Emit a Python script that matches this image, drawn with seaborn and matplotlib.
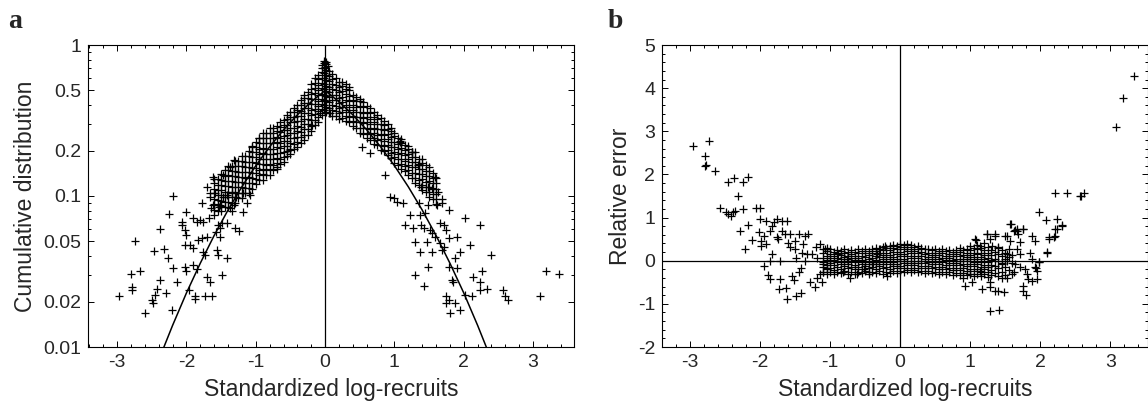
import numpy as np
import pandas as pd
import matplotlib
matplotlib.use("Agg")
import matplotlib.pyplot as plt
import seaborn as sns
from matplotlib.ticker import FixedLocator, MultipleLocator, NullFormatter

# ---- panel a: scattered tail points (x, cumulative probability) ----
a_tail_x = [-2.19, -1.78, -1.66, -1.59, -1.61, -1.64, -1.52, -1.47, -1.42, -1.35, -1.28, -1.18,
            -1.13, -1.08, -1.32, -1.37, -1.35, -1.19, -1.53, -2.25, -2.01, -1.90, -1.85, -1.81,
            -1.76, -1.68, -2.07, -2.07, -2.02, -2.00, -2.38, -2.74, -2.47, -2.33, -2.26, -2.19,
            -2.02, -2.00, -1.90, -1.85, -1.95, -2.02, -1.90, -1.83, -1.78, -1.71, -1.76, -1.73,
            -1.56, -1.54, -1.42, -1.52, -1.54, -1.49, -1.42, -1.30, -1.24, -1.58, -1.52, -1.49,
            -1.71, -1.66, -2.14, -2.38, -2.43, -2.45, -2.50, -2.48, -2.60, -2.29, -2.21, -1.96,
            -1.88, -1.88, -1.73, -1.63, -2.80, -2.67, -2.79, -2.79, -2.98,
            -1.61, -0.96, -1.06, -1.32, -1.37, -1.71, -1.66, -1.47, -0.51, -0.70, -0.07, -0.19,
            -0.02, -0.04, 0.00]
a_tail_y = [0.100, 0.0895, 0.099, 0.104, 0.087, 0.083, 0.087, 0.099, 0.101, 0.104, 0.099, 0.104,
            0.0895, 0.101, 0.087, 0.083, 0.079, 0.078, 0.085, 0.0757, 0.078, 0.0711, 0.0676, 0.0693,
            0.0676, 0.0711, 0.0676, 0.0643, 0.0596, 0.0552, 0.0602, 0.0504, 0.0430, 0.0448, 0.0391, 0.0336,
            0.0341, 0.0321, 0.0349, 0.0327, 0.0474, 0.0474, 0.0451, 0.0512, 0.0525, 0.0538, 0.0428, 0.0407,
            0.0440, 0.0407, 0.0387, 0.0538, 0.0643, 0.0659, 0.0659, 0.0611, 0.0586, 0.0581, 0.0611, 0.0300,
            0.0290, 0.0269, 0.0269, 0.0278, 0.0242, 0.0221, 0.0205, 0.0195, 0.0169, 0.0227, 0.0176, 0.0239,
            0.0216, 0.0207, 0.0219, 0.0218, 0.0303, 0.0319, 0.0251, 0.0239, 0.0216,
            0.134, 0.241, 0.212, 0.173, 0.156, 0.115, 0.104, 0.138, 0.202, 0.156, 0.353, 0.295,
            0.78, 0.74, 0.72]

a_right_x = [1.03, 1.13, 1.35, 1.49, 1.61, 1.68, 1.78, 1.23, 1.37, 1.44, 1.15, 1.27, 1.39, 1.42,
             1.51, 1.54, 1.66, 1.71, 1.75, 1.59, 1.66, 1.71, 1.68, 1.78, 1.90, 1.30, 1.47, 1.37,
             1.54, 1.87, 1.95, 1.78, 1.90, 1.49, 1.30, 1.42, 1.83, 1.85, 1.75, 1.78, 1.75, 1.80,
             1.95, 1.87, 2.02, 2.12, 2.14, 2.24, 2.26, 2.24, 2.33, 2.40, 2.09, 2.24, 2.02, 2.57,
             2.60, 2.64, 3.10, 3.19, 3.37,
             1.08, 1.25, 1.34, 1.59, 1.63, 1.49, 0.07, 1.08, 1.25, 1.35, 0.87, 0.94, 0.99, 1.39,
             1.54, 1.68, 0.53, 0.65, 0.02, 0.04]
a_right_y = [0.0918, 0.0895, 0.0895, 0.0873, 0.0873, 0.0895, 0.0809, 0.0750, 0.0750, 0.0769, 0.0643,
             0.0611, 0.0643, 0.0611, 0.0596, 0.0566, 0.0659, 0.0643, 0.0596, 0.0538, 0.0486, 0.0462,
             0.0440, 0.0525, 0.0538, 0.0499, 0.0499, 0.0428, 0.0428, 0.0387, 0.0428, 0.0341, 0.0332,
             0.0341, 0.0300, 0.0254, 0.0278, 0.0271, 0.0216, 0.0205, 0.0195, 0.0169, 0.0176, 0.0195,
             0.0221, 0.0218, 0.0290, 0.0271, 0.0319, 0.0239, 0.0241, 0.0407, 0.0474, 0.0643, 0.0713,
             0.0239, 0.0216, 0.0205, 0.0219, 0.0321, 0.0305,
             0.229, 0.196, 0.160, 0.134, 0.107, 0.115, 0.353, 0.230, 0.197, 0.160, 0.138, 0.099,
             0.097, 0.115, 0.113, 0.096, 0.212, 0.192, 0.77, 0.73]

# dense core of panel a, one column of points per x value
a_band_left_x = [-1.60, -1.55, -1.50, -1.45, -1.40, -1.35, -1.30, -1.25, -1.20, -1.15, -1.10, -1.05,
                 -1.00, -0.95, -0.90, -0.85, -0.80, -0.75, -0.70, -0.65, -0.60, -0.55, -0.50, -0.45,
                 -0.40, -0.35, -0.30, -0.25, -0.20, -0.15, -0.10, -0.05, -0.01]
a_band_left_y = [
    [0.075, 0.081, 0.088, 0.096, 0.104, 0.112, 0.122, 0.13],
    [0.080, 0.087, 0.094, 0.102, 0.110, 0.119, 0.129],
    [0.079, 0.086, 0.093, 0.101, 0.109, 0.118, 0.128, 0.139],
    [0.084, 0.091, 0.099, 0.107, 0.116, 0.126, 0.136, 0.148],
    [0.084, 0.091, 0.099, 0.107, 0.116, 0.126, 0.137, 0.148, 0.158],
    [0.09, 0.098, 0.106, 0.115, 0.125, 0.135, 0.147, 0.159],
    [0.09, 0.098, 0.106, 0.115, 0.124, 0.135, 0.146, 0.158, 0.17],
    [0.097, 0.105, 0.114, 0.123, 0.134, 0.145, 0.157, 0.17],
    [0.097, 0.105, 0.114, 0.124, 0.134, 0.145, 0.157, 0.171, 0.185],
    [0.104, 0.113, 0.122, 0.132, 0.144, 0.156, 0.169, 0.183],
    [0.104, 0.113, 0.122, 0.133, 0.144, 0.156, 0.169, 0.183, 0.199],
    [0.112, 0.121, 0.131, 0.142, 0.154, 0.167, 0.181, 0.197, 0.213],
    [0.120, 0.130, 0.141, 0.153, 0.166, 0.18, 0.195, 0.211, 0.229],
    [0.127, 0.138, 0.149, 0.162, 0.175, 0.19, 0.206, 0.223, 0.242],
    [0.128, 0.139, 0.151, 0.163, 0.177, 0.192, 0.208, 0.225, 0.244, 0.26],
    [0.137, 0.149, 0.161, 0.175, 0.19, 0.206, 0.223, 0.242, 0.262],
    [0.138, 0.15, 0.162, 0.176, 0.19, 0.206, 0.224, 0.243, 0.263, 0.28],
    [0.149, 0.161, 0.175, 0.19, 0.206, 0.223, 0.242, 0.262, 0.284],
    [0.152, 0.165, 0.179, 0.194, 0.21, 0.228, 0.247, 0.268, 0.29],
    [0.163, 0.177, 0.192, 0.208, 0.225, 0.244, 0.265, 0.287, 0.31],
    [0.168, 0.182, 0.197, 0.214, 0.232, 0.251, 0.272, 0.295, 0.32],
    [0.183, 0.198, 0.215, 0.233, 0.253, 0.274, 0.297, 0.322, 0.345],
    [0.19, 0.206, 0.223, 0.242, 0.262, 0.284, 0.308, 0.334, 0.362],
    [0.205, 0.222, 0.241, 0.261, 0.283, 0.307, 0.333, 0.361, 0.385],
    [0.21, 0.228, 0.247, 0.268, 0.29, 0.315, 0.341, 0.37, 0.40],
    [0.226, 0.245, 0.266, 0.288, 0.312, 0.338, 0.367, 0.398, 0.43],
    [0.235, 0.255, 0.276, 0.299, 0.325, 0.352, 0.381, 0.413, 0.448, 0.465],
    [0.255, 0.276, 0.3, 0.325, 0.352, 0.382, 0.414, 0.449, 0.487],
    [0.27, 0.293, 0.317, 0.344, 0.373, 0.404, 0.438, 0.475, 0.515, 0.555],
    [0.295, 0.32, 0.347, 0.376, 0.407, 0.441, 0.479, 0.519, 0.562, 0.60],
    [0.31, 0.336, 0.364, 0.395, 0.428, 0.464, 0.503, 0.545, 0.591, 0.635],
    [0.345, 0.374, 0.405, 0.439, 0.476, 0.516, 0.56, 0.607, 0.658, 0.70],
    [0.37, 0.40, 0.435, 0.47, 0.51, 0.555, 0.60, 0.65, 0.705, 0.76],
]
a_band_right_x = [0.01, 0.05, 0.10, 0.15, 0.20, 0.25, 0.30, 0.35, 0.40, 0.45, 0.50, 0.55, 0.60, 0.65,
                  0.70, 0.75, 0.80, 0.85, 0.90, 0.95, 1.00, 1.05, 1.10, 1.15, 1.20, 1.25, 1.30, 1.35,
                  1.40, 1.45, 1.50, 1.55, 1.60]
a_band_right_y = [
    [0.36, 0.39, 0.423, 0.459, 0.497, 0.539, 0.584, 0.633, 0.686, 0.745],
    [0.355, 0.385, 0.417, 0.452, 0.49, 0.531, 0.576, 0.624, 0.676],
    [0.34, 0.369, 0.4, 0.433, 0.47, 0.509, 0.552, 0.598, 0.64],
    [0.337, 0.365, 0.396, 0.429, 0.465, 0.504, 0.547, 0.60],
    [0.325, 0.352, 0.382, 0.414, 0.449, 0.486, 0.527, 0.571],
    [0.33, 0.358, 0.388, 0.42, 0.455, 0.494, 0.535, 0.565],
    [0.315, 0.341, 0.37, 0.401, 0.435, 0.471, 0.511, 0.55],
    [0.307, 0.333, 0.361, 0.391, 0.424, 0.46, 0.50, 0.525],
    [0.29, 0.314, 0.341, 0.369, 0.40, 0.434, 0.47],
    [0.283, 0.307, 0.333, 0.361, 0.391, 0.424, 0.455],
    [0.262, 0.284, 0.308, 0.334, 0.362, 0.392, 0.425, 0.44],
    [0.258, 0.28, 0.303, 0.329, 0.356, 0.386, 0.418],
    [0.242, 0.262, 0.284, 0.308, 0.334, 0.362, 0.393],
    [0.236, 0.256, 0.277, 0.301, 0.326, 0.353, 0.38],
    [0.222, 0.241, 0.261, 0.283, 0.307, 0.332, 0.36],
    [0.217, 0.235, 0.255, 0.276, 0.299, 0.325, 0.345],
    [0.202, 0.219, 0.237, 0.257, 0.279, 0.302, 0.328],
    [0.198, 0.215, 0.233, 0.252, 0.273, 0.296, 0.315],
    [0.186, 0.202, 0.219, 0.237, 0.257, 0.279, 0.30],
    [0.179, 0.194, 0.21, 0.228, 0.247, 0.268, 0.28],
    [0.166, 0.18, 0.195, 0.211, 0.229, 0.248, 0.26],
    [0.161, 0.175, 0.189, 0.205, 0.222, 0.241],
    [0.151, 0.164, 0.177, 0.192, 0.209, 0.226, 0.24],
    [0.146, 0.158, 0.171, 0.186, 0.201, 0.218],
    [0.137, 0.149, 0.161, 0.175, 0.189, 0.205, 0.215],
    [0.132, 0.143, 0.155, 0.168, 0.182, 0.197],
    [0.122, 0.132, 0.143, 0.155, 0.168, 0.182, 0.195],
    [0.118, 0.128, 0.139, 0.15, 0.163, 0.176],
    [0.11, 0.119, 0.129, 0.14, 0.152, 0.165, 0.175],
    [0.106, 0.115, 0.124, 0.135, 0.146, 0.16],
    [0.098, 0.106, 0.115, 0.125, 0.135, 0.147, 0.155],
    [0.095, 0.103, 0.111, 0.121, 0.131, 0.142],
    [0.088, 0.095, 0.103, 0.112, 0.121, 0.131],
]

# standard normal reference curve (tabulated)
normal_x = [-2.4, -2.2, -2.0, -1.8, -1.6, -1.4, -1.2, -1.0, -0.8, -0.6, -0.4, -0.2, 0.0,
            0.2, 0.4, 0.6, 0.8, 1.0, 1.2, 1.4, 1.6, 1.8, 2.0, 2.2, 2.4]
normal_p = [0.0082, 0.0139, 0.0228, 0.0359, 0.0548, 0.0808, 0.1151, 0.1587, 0.2119, 0.2743, 0.3446,
            0.4207, 0.5, 0.4207, 0.3446, 0.2743, 0.2119, 0.1587, 0.1151, 0.0808, 0.0548, 0.0359,
            0.0228, 0.0139, 0.0082]

# ---- panel b: relative error ----
b_pts_x = [-2.96, -2.73, -2.79, -2.77, -2.79, -2.65, -2.46, -2.37, -2.25, -2.17, -2.32, -2.57, -2.49,
           -2.46, -2.42, -2.39, -2.36, -2.25, -2.06, -2.00, -2.28, -2.17, -2.12, -2.21, -2.00, -1.92,
           -2.02, -1.95, -1.99, -1.99, -1.91, -1.86, -1.83, -1.80, -1.76, -1.69, -1.61, -1.76, -1.74,
           -1.69, -1.64, -1.57, -1.60, -1.50, -1.45, -1.36, -1.31, -1.38, -1.33, -1.50, -1.57, -1.40,
           -1.48, -1.36, -1.83, -1.86, -1.71, -1.95, -1.88, -1.86, -1.71, -1.73, -1.63, -1.62, -1.49,
           -1.41, -1.55, -1.52, -1.45, -1.41, -1.29, -1.22, -1.19, -1.14, -1.12, -1.10, -1.20, -1.14,
           -1.07, -1.04, -1.26, -1.19, -1.10, -1.05, -1.00, -0.88, -0.76, -0.71, -0.81, -0.62, -0.52,
           -0.45, -0.38, -0.33, -0.29, -0.21, -0.19,
           1.57, 1.62, 1.67, 1.76, 1.69, 1.24, 1.36, 1.50, 1.57, 1.71, 1.88, 1.93, 2.12, 2.21, 2.24,
           2.31, 2.10, 1.86, 1.88, 1.98, 1.67, 1.71, 1.52, 1.40, 1.31, 1.14, 1.07, 1.45, 1.52, 1.64,
           1.71, 1.79, 1.93, 1.95, 1.81, 1.83, 1.88, 1.95, 1.76, 1.76, 1.80, 1.45, 1.52, 1.62, 1.40,
           1.48, 1.36, 1.29, 1.17, 1.29, 1.02, 0.93, 0.90, 1.14, 1.00, 1.29, 1.41,
           3.34, 3.18, 3.09, 2.21, 2.39, 2.57, 2.63, 2.59, 1.99, 2.09, 2.24, 2.31, 2.21, 2.12, 2.20,
           2.10, 1.99, 1.94, 1.58, 1.64, 1.67, 1.76, 1.24, 1.36, 1.52, 1.09, 1.29]
b_pts_y = [2.65, 2.78, 2.43, 2.22, 2.19, 2.09, 1.82, 1.92, 1.82, 1.93, 1.51, 1.22, 1.13, 1.08, 1.04,
           1.13, 1.16, 1.20, 1.22, 1.22, 0.69, 0.83, 0.48, 0.27, 0.96, 0.92, 0.66, 0.58, 0.46, 0.33,
           0.38, 0.70, 0.81, 0.89, 0.96, 0.93, 0.91, 0.54, 0.50, 0.70, 0.62, 0.62, 0.42, 0.46, 0.62,
           0.58, 0.62, 0.38, 0.15, 0.27, 0.31, 0.19, 0.07, 0.00, 0.15, 0.00, 0.00, -0.12, -0.33, -0.43,
           -0.43, -0.66, -0.64, -0.88, -0.81, -0.74, -0.35, -0.45, -0.25, -0.16, -0.50, -0.61, -0.39,
           -0.31, -0.50, -0.25, 0.31, 0.38, 0.27, 0.29, 0.15, 0.07, -0.08, -0.16, 0.00, 0.15, 0.04,
           -0.39, -0.27, -0.31, -0.19, -0.27, -0.08, 0.15, 0.27, 0.35, -0.35,
           0.85, 0.70, 0.73, 0.73, 0.62, 0.62, 0.58, 0.58, 0.46, 0.43, 0.58, 0.46, 0.54, 0.58, 0.73,
           0.81, 0.19, 0.19, 0.04, -0.04, 0.27, 0.15, 0.15, 0.31, 0.35, 0.35, 0.50, -0.08, 0.00, -0.08,
           -0.15, -0.19, -0.15, -0.23, -0.31, -0.43, -0.46, -0.43, -0.58, -0.70, -0.79, -0.39, -0.39,
           -0.27, -0.70, -0.73, -0.70, -0.62, -0.66, -0.50, -0.50, -0.58, -0.39, -0.23, -0.31, -1.16,
           -1.14,
           4.29, 3.76, 3.11, 1.58, 1.57, 1.51, 1.56, 1.49, 1.13, 0.94, 0.97, 0.83, 0.73, 0.50, 0.56,
           0.21, -0.04, -0.16, 0.86, 0.71, 0.69, 0.73, 0.63, 0.62, 0.58, 0.48, 0.50]

b_band_x = [-1.10, -1.05, -1.00, -0.95, -0.90, -0.85, -0.80, -0.75, -0.70, -0.65, -0.60, -0.55, -0.50,
            -0.45, -0.40, -0.35, -0.30, -0.25, -0.20, -0.15, -0.10, -0.05, 0.00, 0.05, 0.10, 0.15,
            0.20, 0.25, 0.30, 0.35, 0.40, 0.45, 0.50, 0.55, 0.60, 0.65, 0.70, 0.75, 0.80, 0.85, 0.90,
            0.95, 1.00, 1.05, 1.10, 1.15, 1.20, 1.25, 1.30, 1.35, 1.40, 1.45, 1.50, 1.55, 1.60]
b_band_y = [
    [-0.27, -0.15, -0.04, 0.07, 0.18, 0.28], [-0.31, -0.20, -0.09, 0.02, 0.12, 0.23],
    [-0.26, -0.16, -0.05, 0.06, 0.16, 0.26], [-0.30, -0.21, -0.10, 0.01, 0.11, 0.21],
    [-0.25, -0.14, -0.03, 0.07, 0.17, 0.25], [-0.29, -0.19, -0.08, 0.03, 0.13, 0.22],
    [-0.24, -0.13, -0.02, 0.08, 0.18, 0.27], [-0.30, -0.18, -0.07, 0.03, 0.12, 0.21],
    [-0.26, -0.15, -0.04, 0.06, 0.16, 0.24], [-0.31, -0.20, -0.09, 0.01, 0.11, 0.20],
    [-0.25, -0.14, -0.03, 0.07, 0.17, 0.26], [-0.29, -0.19, -0.08, 0.02, 0.12, 0.22],
    [-0.24, -0.13, -0.02, 0.08, 0.18, 0.27], [-0.30, -0.18, -0.07, 0.03, 0.13, 0.23],
    [-0.25, -0.14, -0.03, 0.07, 0.17, 0.28], [-0.29, -0.19, -0.08, 0.02, 0.12, 0.22, 0.30],
    [-0.24, -0.13, -0.02, 0.08, 0.18, 0.27], [-0.30, -0.18, -0.07, 0.04, 0.14, 0.24, 0.32],
    [-0.25, -0.14, -0.03, 0.08, 0.19, 0.29], [-0.29, -0.19, -0.08, 0.03, 0.14, 0.25, 0.34],
    [-0.24, -0.13, -0.02, 0.09, 0.20, 0.30, 0.37], [-0.28, -0.18, -0.07, 0.04, 0.15, 0.26, 0.35],
    [-0.23, -0.12, -0.01, 0.10, 0.21, 0.31, 0.39], [-0.27, -0.17, -0.06, 0.05, 0.16, 0.27, 0.37],
    [-0.22, -0.11, 0.00, 0.11, 0.22, 0.32, 0.38], [-0.27, -0.16, -0.05, 0.06, 0.17, 0.28, 0.36],
    [-0.22, -0.11, 0.00, 0.11, 0.22, 0.32], [-0.27, -0.16, -0.05, 0.06, 0.17, 0.27, 0.34],
    [-0.23, -0.12, -0.01, 0.10, 0.21, 0.30], [-0.28, -0.17, -0.06, 0.05, 0.16, 0.26],
    [-0.24, -0.13, -0.02, 0.09, 0.19, 0.28], [-0.29, -0.18, -0.07, 0.04, 0.14, 0.24],
    [-0.25, -0.14, -0.03, 0.08, 0.18, 0.27], [-0.30, -0.19, -0.08, 0.03, 0.13, 0.23],
    [-0.26, -0.15, -0.04, 0.07, 0.17, 0.26], [-0.31, -0.20, -0.09, 0.02, 0.12, 0.22],
    [-0.27, -0.16, -0.05, 0.06, 0.16, 0.25], [-0.32, -0.21, -0.10, 0.01, 0.11, 0.21],
    [-0.28, -0.17, -0.06, 0.05, 0.15, 0.25], [-0.33, -0.22, -0.11, 0.00, 0.10, 0.20, 0.29],
    [-0.29, -0.18, -0.07, 0.04, 0.14, 0.24], [-0.34, -0.23, -0.12, -0.01, 0.09, 0.19, 0.28],
    [-0.30, -0.19, -0.08, 0.03, 0.14, 0.24, 0.33], [-0.35, -0.24, -0.13, -0.02, 0.09, 0.19, 0.29],
    [-0.30, -0.19, -0.08, 0.04, 0.15, 0.26, 0.36], [-0.36, -0.25, -0.14, -0.03, 0.08, 0.19, 0.30],
    [-0.31, -0.20, -0.09, 0.03, 0.14, 0.25, 0.40], [-0.37, -0.26, -0.15, -0.04, 0.07, 0.18, 0.31],
    [-0.33, -0.21, -0.10, 0.02, 0.13, 0.24], [-0.28, -0.12, 0.05, 0.20],
    [-0.36, -0.18, 0.00, 0.15, 0.30], [-0.25, -0.06, 0.10, 0.24], [-0.33, -0.14, 0.04, 0.18],
    [-0.22, 0.08, 0.28], [-0.30, -0.05, 0.14],
]

a_major = [0.01, 0.02, 0.05, 0.1, 0.2, 0.5, 1]
a_major_labels = ["0.01", "0.02", "0.05", "0.1", "0.2", "0.5", "1"]
a_minor = [0.03, 0.04, 0.06, 0.07, 0.08, 0.09, 0.3, 0.4, 0.6, 0.7, 0.8, 0.9]


def columns_to_frame(xs, cols):
    rows = [(x, y) for x, col in zip(xs, cols) for y in col]
    return pd.DataFrame(rows, columns=["x", "y"])


sns.set_style("ticks")
plt.rcParams["font.family"] = ["Liberation Sans", "DejaVu Sans"]
plt.rcParams["axes.unicode_minus"] = False

pts_a = pd.concat([
    pd.DataFrame({"x": a_tail_x, "y": a_tail_y}),
    pd.DataFrame({"x": a_right_x, "y": a_right_y}),
    columns_to_frame(a_band_left_x, a_band_left_y),
    columns_to_frame(a_band_right_x, a_band_right_y),
], ignore_index=True)
pts_b = pd.concat([
    pd.DataFrame({"x": b_pts_x, "y": b_pts_y}),
    columns_to_frame(b_band_x, b_band_y),
], ignore_index=True)
curve = pd.DataFrame({"x": normal_x, "p": normal_p})

fig = plt.figure(figsize=(11.48, 4.05), dpi=100)
ax_a = fig.add_axes([88 / 1148, 58 / 405, 486 / 1148, 302 / 405])
ax_b = fig.add_axes([662 / 1148, 58 / 405, 486 / 1148, 302 / 405])

mk = dict(marker="+", color="black", s=40, linewidth=0.9, legend=False)

# panel a
ax_a.set_yscale("log")
ax_a.axvline(0, color="black", lw=0.9)
sns.lineplot(data=curve.iloc[:13], x="x", y="p", color="black", lw=1.1, estimator=None, ax=ax_a)
sns.lineplot(data=curve.iloc[12:], x="x", y="p", color="black", lw=1.1, estimator=None, ax=ax_a)
sns.scatterplot(data=pts_a, x="x", y="y", ax=ax_a, **mk)
ax_a.set_xlim(-3.42, 3.59)
ax_a.set_ylim(0.01, 1)
ax_a.yaxis.set_major_locator(FixedLocator(a_major))
ax_a.set_yticklabels(a_major_labels)
ax_a.yaxis.set_minor_locator(FixedLocator(a_minor))
ax_a.yaxis.set_minor_formatter(NullFormatter())
ax_a.set_ylabel("Cumulative distribution", fontsize=16.5)

# panel b
ax_b.axvline(0, color="black", lw=0.9)
ax_b.axhline(0, color="black", lw=0.9)
sns.scatterplot(data=pts_b, x="x", y="y", ax=ax_b, **mk)
ax_b.set_xlim(-3.40, 3.54)
ax_b.set_ylim(-2, 5)
ax_b.yaxis.set_major_locator(MultipleLocator(1))
ax_b.yaxis.set_minor_locator(MultipleLocator(0.2))
ax_b.set_ylabel("Relative error", fontsize=16.5)

for ax in (ax_a, ax_b):
    ax.xaxis.set_major_locator(MultipleLocator(1))
    ax.xaxis.set_minor_locator(MultipleLocator(0.2))
    ax.tick_params(which="both", direction="in", top=True, right=True, labelsize=14,
                   color="black", width=0.7)
    ax.tick_params(which="major", length=4, pad=5)
    ax.tick_params(which="minor", length=2.5)
    ax.set_xlabel("Standardized log-recruits", fontsize=16.5, labelpad=5)
    for sp in ax.spines.values():
        sp.set_linewidth(0.8)
        sp.set_color("black")

fig.text(8 / 1148, 1 - 28 / 405, "a", fontsize=20, fontweight="bold",
         family=["Liberation Serif", "DejaVu Serif"])
fig.text(608 / 1148, 1 - 28 / 405, "b", fontsize=20, fontweight="bold",
         family=["Liberation Serif", "DejaVu Serif"])

fig.savefig("out.png", dpi=100)
